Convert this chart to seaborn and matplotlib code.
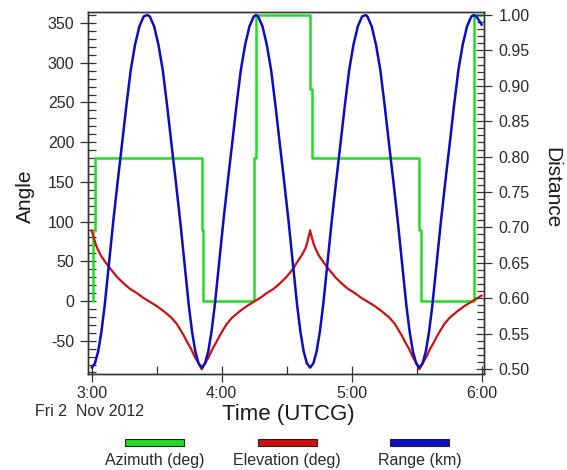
import matplotlib
matplotlib.use("Agg")
import matplotlib.pyplot as plt
import seaborn as sns
from matplotlib.patches import Rectangle
from matplotlib.ticker import MultipleLocator, FixedLocator, FormatStrFormatter

sns.set_style("white")
plt.rcParams['font.family'] = ['Liberation Sans', 'DejaVu Sans']
plt.rcParams['axes.unicode_minus'] = False

# ---------------- data (time in minutes after 3:00 UTCG) ----------------
az_time = [0.45, 0.45, 1.5, 1.5, 50.8, 50.8, 51.4, 51.4, 75.05, 75.05, 75.85, 75.85,
           100.8, 100.8, 101.8, 101.8, 151.2, 151.2, 151.8, 151.8, 176.4, 176.4, 180.0]
az_deg = [0, 90, 90, 180, 180, 90, 90, 0, 0, 180, 180, 360,
          360, 267, 267, 180, 180, 90, 90, 0, 0, 360, 360]

el_time = [0.0, 0.8, 1.8, 2.8, 4.3, 6.3, 8.8, 11.8, 14.8, 17.8, 20.8, 23.8, 26.8, 29.8,
           33.3, 36.8, 39.3, 41.3, 42.8, 44.3, 45.8, 47.5, 48.8, 49.8, 50.8,
           51.8, 52.8, 54.1, 55.8, 57.3, 58.8, 60.3, 62.3, 64.8, 68.3, 71.8, 74.8, 77.8,
           80.8, 83.8, 86.8, 89.8, 92.8, 95.3, 97.0, 98.6, 99.5, 100.2, 100.8,
           101.5, 102.4, 103.4, 104.9, 106.9, 109.4, 112.4, 115.4, 118.4, 121.4, 124.4,
           127.4, 130.4, 133.9, 137.4, 139.9, 141.9, 143.4, 144.9, 146.4, 148.1, 149.4,
           150.4, 151.2,
           152.2, 153.2, 154.5, 156.2, 157.7, 159.2, 160.7, 162.7, 165.2, 168.7, 172.2,
           175.2, 178.2, 180.0]
el_deg = [89, 81, 72, 65, 57, 49, 40, 30, 22, 15, 10, 4, -1, -6,
          -13, -21, -29, -38, -45, -53, -60, -70, -76, -81, -86,
          -81, -76, -70, -60, -53, -45, -38, -29, -21, -13, -6, -1, 4,
          10, 15, 22, 30, 40, 51, 58, 66, 74, 82, 89,
          81, 72, 65, 57, 49, 40, 30, 22, 15, 10, 4,
          -1, -6, -13, -21, -29, -38, -45, -53, -60, -70, -76,
          -81, -86,
          -81, -76, -70, -60, -53, -45, -38, -29, -21, -13, -6,
          -1, 4, 7]

rg_time = [0.0, 1.5, 3.0, 4.5, 6.0, 8.0, 10.0, 12.0, 14.0, 16.0, 18.0, 20.0, 22.0, 24.0, 25.6,
           26.8, 28.8, 30.8, 32.8, 34.8, 36.8, 38.8, 40.8, 42.8, 44.8, 46.3, 47.8, 49.3, 50.8,
           52.3, 53.8, 55.3, 56.8, 58.8, 60.8, 62.8, 64.8, 66.8, 68.8, 70.8, 72.8, 74.8, 75.8,
           76.8, 78.8, 80.8, 82.8, 84.8, 86.8, 88.8, 90.8, 92.8, 94.8, 96.3, 97.8, 99.3, 100.8,
           102.3, 103.8, 105.3, 106.8, 108.8, 110.8, 112.8, 114.8, 116.8, 118.8, 120.8, 122.8,
           124.8, 126.5,
           127.2, 129.2, 131.2, 133.2, 135.2, 137.2, 139.2, 141.2, 143.2, 145.2, 146.7, 148.2,
           149.7, 151.2,
           152.7, 154.2, 155.7, 157.2, 159.2, 161.2, 163.2, 165.2, 167.2, 169.2, 171.2, 173.2,
           175.2, 176.4, 178.0, 180.0]
rg_km = [0.502, 0.508, 0.525, 0.553, 0.59, 0.65, 0.71, 0.765, 0.818, 0.872, 0.922, 0.958, 0.984, 0.998, 1.0,
         0.998, 0.984, 0.958, 0.922, 0.872, 0.818, 0.765, 0.71, 0.65, 0.59, 0.553, 0.525, 0.508, 0.502,
         0.508, 0.525, 0.553, 0.59, 0.65, 0.71, 0.765, 0.818, 0.872, 0.922, 0.958, 0.984, 0.998, 1.0,
         0.998, 0.984, 0.958, 0.922, 0.872, 0.818, 0.765, 0.71, 0.65, 0.59, 0.553, 0.525, 0.508, 0.502,
         0.508, 0.525, 0.553, 0.59, 0.65, 0.71, 0.765, 0.818, 0.872, 0.922, 0.958, 0.984,
         0.998, 1.0,
         0.998, 0.984, 0.958, 0.922, 0.872, 0.818, 0.765, 0.71, 0.65, 0.59, 0.553, 0.525,
         0.508, 0.502,
         0.508, 0.525, 0.553, 0.59, 0.65, 0.71, 0.765, 0.818, 0.872, 0.922, 0.958, 0.984,
         0.998, 1.0, 0.996, 0.986]

x_ticks = [0, 60, 120, 180]
x_tick_labels = ["3:00", "4:00", "5:00", "6:00"]
x_minor = [30, 90, 150]
series_labels = ["Azimuth (deg)", "Elevation (deg)", "Range (km)"]
series_colors = ["#22dd22", "#cc1111", "#0c0cc4"]
date_text = "Fri 2  Nov 2012"

# ---------------- figure ----------------
W, H = 567, 470
fig = plt.figure(figsize=(W / 100, H / 100), dpi=100)
ax = fig.add_axes([88.3 / W, 1 - 374.3 / H, (483.5 - 88.3) / W, (374.3 - 12.3) / H])
ax2 = ax.twinx()

sns.lineplot(x=az_time, y=az_deg, ax=ax, color=series_colors[0], lw=1.8,
             estimator=None, sort=False)
sns.lineplot(x=el_time, y=el_deg, ax=ax, color=series_colors[1], lw=1.6,
             estimator=None, sort=False)
sns.lineplot(x=rg_time, y=rg_km, ax=ax2, color=series_colors[2], lw=1.8,
             estimator=None, sort=False)

ax.set_xlim(-1.57, 180.8)
ax.set_ylim(-92.3, 363.5)
ax2.set_ylim(0.4925, 1.0038)

ax.xaxis.set_major_locator(FixedLocator(x_ticks))
ax.set_xticklabels(x_tick_labels)
ax.xaxis.set_minor_locator(FixedLocator(x_minor))
ax.yaxis.set_major_locator(MultipleLocator(50))
ax.yaxis.set_minor_locator(MultipleLocator(10))
ax2.yaxis.set_major_locator(MultipleLocator(0.05))
ax2.yaxis.set_minor_locator(MultipleLocator(0.01))
ax2.yaxis.set_major_formatter(FormatStrFormatter('%.2f'))

tick_col = '#333333'
ax.tick_params(axis='y', which='major', left=True, direction='inout', length=11.5,
               width=0.9, color=tick_col, labelsize=11.5, labelcolor='#2a2a2a', pad=4.3)
ax.tick_params(axis='x', which='major', bottom=True, direction='inout', length=11,
               width=0.9, color=tick_col, labelsize=11.5, labelcolor='#2a2a2a', pad=2.7)
ax.tick_params(axis='both', which='minor', left=True, bottom=True, direction='in',
               length=5.5, width=0.9, color=tick_col)
ax2.tick_params(axis='y', which='major', right=True, direction='inout', length=12,
                width=0.9, color=tick_col, labelsize=11.5, labelcolor='#2a2a2a', pad=5.0)
ax2.tick_params(axis='y', which='minor', right=True, direction='in', length=5,
                width=0.9, color=tick_col)

for a in (ax, ax2):
    for s in a.spines.values():
        s.set_visible(True)
        s.set_color('#333333')
        s.set_linewidth(1.0)

ax.set_ylabel('Angle', fontsize=15, color='#1a1a1a', va='center')
ax.yaxis.set_label_coords(-0.160, 0.4925)
ax2.set_ylabel('Distance', fontsize=15, color='#1a1a1a', rotation=270, va='center')
ax2.yaxis.set_label_coords(1.173, 0.516)
ax.set_xlabel('Time (UTCG)', fontsize=16, color='#1a1a1a', va='center')
ax.xaxis.set_label_coords(0.505, -0.1124)

fig.text(89.5 / W, 1 - 411.7 / H, date_text, ha='center', va='center',
         fontsize=11.5, color='#2a2a2a')

# legend: swatches with labels beneath
sw_centers = [154.5, 287.2, 419.5]
sw_w, sw_h, sw_y = 59, 6.5, 439
for cx, lab, col in zip(sw_centers, series_labels, series_colors):
    fig.add_artist(Rectangle(((cx - sw_w / 2) / W, 1 - (sw_y + sw_h) / H), sw_w / W, sw_h / H,
                             transform=fig.transFigure, facecolor=col,
                             edgecolor='#222222', linewidth=0.8))
    fig.text(cx / W, 1 - 461 / H, lab, ha='center', va='center', fontsize=11.5,
             color='#2a2a2a')

fig.savefig('out.png', dpi=100)
